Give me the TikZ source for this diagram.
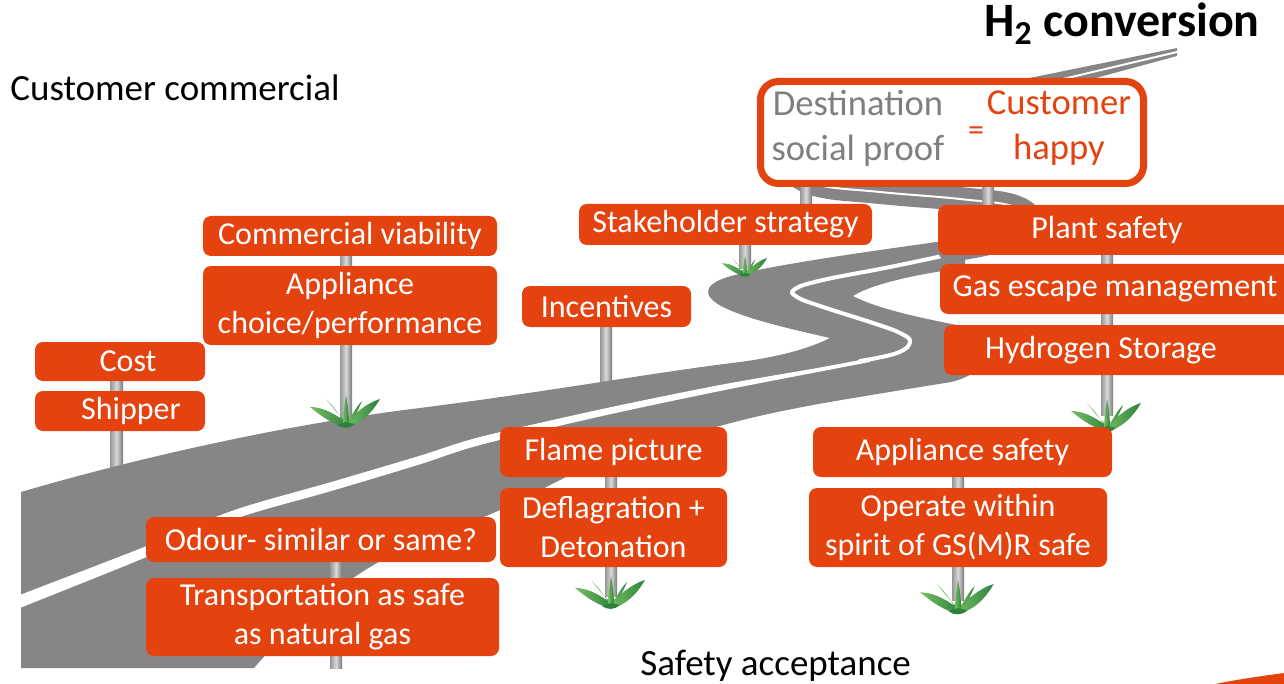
\documentclass[tikz,border=0pt]{standalone}
\usepackage{fontspec}
\setmainfont{Carlito}
\definecolor{orng}{RGB}{228,66,14}
\definecolor{roadgray}{RGB}{135,133,134}
\definecolor{txtgray}{RGB}{127,127,127}
\definecolor{grasslt}{RGB}{120,190,100}
\definecolor{grassdk}{RGB}{45,130,62}
\definecolor{polegray}{RGB}{150,150,150}
\tikzset{
  sign/.style={fill=orng, rounded corners=4pt, text=white, inner sep=0pt,
    align=center, font=\fontsize{16pt}{19.5pt}\selectfont},
  pole/.style={left color=polegray, right color=polegray!80!black, middle color=white!85!black},
  heading/.style={font=\fontsize{18.5pt}{22pt}\selectfont, inner sep=0pt},
  leaf/.style={left color=grasslt, right color=grassdk},
  tuft/.pic={
    \shade[leaf] (2,4) .. controls (-8,-2) and (-20,-12) .. (-36,-12)
      .. controls (-24,-2) and (-12,6) .. (0,8) -- cycle;
    \shade[leaf] (-2,4) .. controls (8,-4) and (20,-16) .. (34,-20)
      .. controls (26,-6) and (14,6) .. (0,8) -- cycle;
    \shade[leaf] (-1,4) .. controls (-8,-6) and (-14,-14) .. (-20,-20)
      .. controls (-12,-10) and (-6,-2) .. (2,4) -- cycle;
    \shade[leaf] (1,4) .. controls (6,-4) and (10,-12) .. (16,-18)
      .. controls (12,-8) and (7,0) .. (4,5) -- cycle;
    \shade[leaf] (-3,6) .. controls (-3,-6) and (-1,-16) .. (0,-24)
      .. controls (2,-14) and (3,-4) .. (3,6) -- cycle;
    \fill[grassdk] (-9,6) .. controls (-4,10) and (4,10) .. (9,5) -- (0,3) -- cycle;
  }
}
\begin{document}
\begin{tikzpicture}[x=0.5pt,y=-0.5pt]
\useasboundingbox (0,0) rectangle (1284,684);

% poles standing behind the road
\shade[pole] (110,381) rectangle (123,468);
\shade[pole] (340,256) rectangle (352,420);
\shade[pole] (600,327) rectangle (612,384);
\shade[pole] (739,245) rectangle (751,268);

% the winding road, near part
\fill[roadgray] (21,668) -- (21,492)
  .. controls (130,460) and (280,425) .. (420,408)
  .. controls (560,390) and (650,373) .. (740,362)
  .. controls (785,356) and (812,347) .. (830,338)
  .. controls (795,330) and (750,320) .. (725,308)
  .. controls (700,296) and (702,283) .. (735,275)
  .. controls (790,262) and (880,250) .. (965,238)
  -- (965,268)
  .. controls (930,272) and (875,282) .. (853,296)
  .. controls (875,308) and (920,318) .. (962,326)
  .. controls (995,334) and (995,376) .. (945,383)
  -- plot[smooth] coordinates {(945,383) (813,405) (727,424) (600,462) (500,510) (377,563) (300,620) (254,668)}
  -- cycle;
% centre line of the near part
\fill[white] plot[smooth] coordinates {(21,594.5) (143,547.5) (233,510.5) (333,481.5) (420,455.7) (480,437) (600,409.5) (720,385) (823,367) (870,358)}
  -- plot[smooth] coordinates {(870,362) (823,371) (720,391) (600,416.5) (480,445) (420,464.3) (333,490.5) (233,519.5) (143,558.5) (21,607.5)}
  -- cycle;
\draw[white, line width=2pt, line cap=round] plot[smooth, tension=0.7] coordinates
  {(860,361) (897,353) (910,342) (900,333) (873,323) (823,307) (797,297) (795,289) (823,280) (890,267) (957,253) (990,247)};
% far part of the road
\draw[roadgray, line width=12pt, line cap=round] plot[smooth, tension=0.7] coordinates
  {(950,250) (1000,240) (1028,224) (1015,207) (960,199) (880,192) (815,184) (785,165)};
\draw[white, line width=1pt] plot[smooth, tension=0.7] coordinates
  {(950,250) (1000,240) (1028,224) (1015,207) (960,199) (880,192) (815,184) (785,165)};
\fill[roadgray] (1000,84) -- (1177,48) -- (1177,56) -- (1000,104) -- cycle;
\draw[white, line width=1pt] (1000,94) -- (1177,52);

% poles standing in front
\shade[pole] (330,562) rectangle (342,668);
\shade[pole] (605,477) rectangle (617,596);
\shade[pole] (952,477) rectangle (964,600);
\shade[pole] (1101,255) rectangle (1113,415);
\shade[pole] (800,185) rectangle (812,206);
\shade[pole] (982,185) rectangle (994,206);

% grass at the foot of the poles
\pic at (346,419) {tuft};
\pic[scale=0.65] at (745,271) {tuft};
\pic at (1107,423) {tuft};
\pic at (611,600) {tuft};
\pic[scale=1.05] at (958,605) {tuft};

% headings
\node[heading, anchor=base west] (cc) at (10,101) {Customer commercial};
\node[heading, anchor=base west] (sa) at (640,675) {Safety acceptance};
\node[font=\fontsize{24pt}{27pt}\selectfont\bfseries, inner sep=0pt, anchor=base east] (h2) at (1260,37) {H\textsubscript{2} conversion};

% signs, customer commercial side
\node[sign, minimum width=85pt, minimum height=19.5pt] (cost) at (120,361.5) {\hspace*{8pt}Cost};
\node[sign, minimum width=85pt, minimum height=20pt] (shipper) at (120,411) {\hspace*{11pt}Shipper};
\node[sign, minimum width=147pt, minimum height=20pt] (commv) at (350,236) {Commercial viability};
\node[sign, minimum width=147pt, minimum height=39.5pt] (applch) at (350,305.5) {Appliance\\choice/performance};
\node[sign, minimum width=84.5pt, minimum height=20.5pt] (incent) at (606.5,306.5) {Incentives};
\node[sign, minimum width=146.5pt, minimum height=20.5pt] (stake) at (725.5,224.5) {Stakeholder strategy};

% signs, safety side
\node[sign, minimum width=181pt, minimum height=25pt] (plant) at (1119,230) {Plant safety\hspace*{12pt}};
\node[sign, minimum width=180pt, minimum height=25pt] (gasesc) at (1120,289) {Gas escape management\hspace*{5pt}};
\node[sign, minimum width=178pt, minimum height=25pt] (hydro) at (1122,350) {Hydrogen Storage\hspace*{21pt}};
\node[sign, minimum width=113.5pt, minimum height=25pt] (flame) at (613.5,452) {Flame picture};
\node[sign, minimum width=113.5pt, minimum height=39.5pt] (deflag) at (613.5,527.5) {Deflagration +\\Detonation};
\node[sign, minimum width=149.5pt, minimum height=25pt] (applsafe) at (962.5,452) {Appliance safety};
\node[sign, minimum width=149pt, minimum height=39.5pt] (operate) at (958,527.5) {Operate within\\spirit of GS(M)R safe};
\node[sign, minimum width=175pt, minimum height=22.5pt] (odour) at (321,539.5) {Odour- similar or same?};
\node[sign, minimum width=176.5pt, minimum height=39pt] (transp) at (322.5,617) {Transportation as safe\\as natural gas};

% destination board
\node[draw=orng, line width=3.5pt, rounded corners=9pt, fill=white, inner sep=0pt,
  minimum width=191.5pt, minimum height=51pt] (dest) at (952,132.5) {};
\node[font=\fontsize{18.3pt}{22.5pt}\selectfont, text=txtgray, align=center, inner sep=0pt] (destl) at (858,128) {Destination\\social proof};
\node[font=\fontsize{16pt}{16pt}\selectfont, text=orng, inner sep=0pt] (desteq) at (976,134) {=};
\node[font=\fontsize{18.3pt}{22.5pt}\selectfont, text=orng, align=center, inner sep=0pt] (destr) at (1059,128) {Customer\\happy};

% corner accent
\fill[orng] (1215,684) .. controls (1240,679) and (1262,676) .. (1284,673) -- (1284,684) -- cycle;
\end{tikzpicture}
\end{document}
